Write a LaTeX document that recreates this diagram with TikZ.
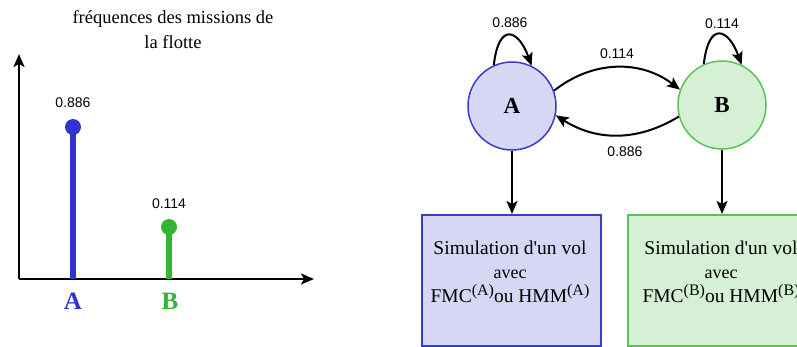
\documentclass[tikz,border=0pt]{standalone}
\usepackage{fontspec}
\setmainfont{Liberation Serif}[Ligatures=TeXOff]
\newfontfamily\numfont{Liberation Sans}
\usetikzlibrary{arrows.meta}
\definecolor{blueC}{RGB}{48,52,208}
\definecolor{greenC}{RGB}{52,180,52}
\definecolor{blueFill}{RGB}{214,215,245}
\definecolor{greenFill}{RGB}{214,240,214}
\definecolor{blueLine}{RGB}{58,58,205}
\definecolor{greenLine}{RGB}{88,196,88}
\newcommand{\supx}[1]{\raisebox{7pt}{\fontsize{16}{18}\selectfont #1}}
\tikzset{
  num/.style={font=\numfont\fontsize{14}{16}\selectfont, inner sep=1pt},
  arr/.style={line width=2pt, -{Stealth[length=13pt,width=11pt,inset=3pt]}},
  state/.style={circle, minimum size=88pt, inner sep=0pt, line width=1.5pt, font=\bfseries\fontsize{23}{25}\selectfont},
  simbox/.style={rectangle, minimum width=179pt, minimum height=131pt, line width=2pt, align=center, inner sep=0pt},
  stem/.style={line width=6pt},
}
\begin{document}
\begin{tikzpicture}[x=1pt,y=-1pt]
\clip (0,0) rectangle (797,347);
\fill[white] (0,0) rectangle (797,347);
% title
\node[align=center, font=\fontsize{18.5}{25}\selectfont] (title) at (173,30) {fréquences des missions de\\la flotte};
% axes
\coordinate (O) at (19,279);
\coordinate (Ytop) at (19,54);
\coordinate (Xend) at (314,279);
\draw[arr] (O) -- (Ytop);
\draw[arr] (O) -- (Xend);
% stems
\coordinate (sa0) at (73,279);
\coordinate (sa1) at (73,127);
\coordinate (sb0) at (169,279);
\coordinate (sb1) at (169,227);
\draw[stem, blueC] (sa0) -- (sa1);
\fill[blueC] (sa1) circle (8);
\draw[stem, greenC] (sb0) -- (sb1);
\fill[greenC] (sb1) circle (8);
\node[num] (la) at (73,103) {0.886};
\node[num] (lb) at (169,204) {0.114};
\node[font=\bfseries\fontsize{25}{27}\selectfont, text=blueC] (xA) at (73,301) {A};
\node[font=\bfseries\fontsize{25}{27}\selectfont, text=greenC] (xB) at (170,301) {B};
% states
\node[state, draw=blueLine, fill=blueFill] (A) at (512,106) {A};
\node[state, draw=greenLine, fill=greenFill] (B) at (722,105) {B};
% self loops
\draw[arr] (A.114) .. controls +(5,-44) and +(-13,-36) .. (A.64);
\node[num] (lA) at (510,23) {0.886};
\draw[arr] (B.114) .. controls +(5,-44) and +(-13,-36) .. (B.64);
\node[num] (lB) at (722,24) {0.114};
% transitions
\draw[arr] (A.20) to[bend left=38] (B.160);
\node[num] (lAB) at (617,54) {0.114};
\draw[arr] (B.195) to[bend left=32] (A.-12);
\node[num] (lBA) at (625,152) {0.886};
% boxes
\node[simbox, draw=blueLine, fill=blueFill] (boxA) at (511.5,280.5) {};
\node[simbox, draw=greenLine, fill=greenFill] (boxB) at (717.5,280.5) {};
\node[align=center, font=\fontsize{19.5}{24}\selectfont] (tA) at (510,272) {Simulation d'un vol\\{\fontsize{18}{20}\selectfont avec}\\FMC\supx{(A)}ou HMM\supx{(A)}};
\node[align=center, font=\fontsize{19.5}{24}\selectfont] (tB) at (721,272) {Simulation d'un vol\\{\fontsize{18}{20}\selectfont avec}\\FMC\supx{(B)}ou HMM\supx{(B)}};
\draw[arr] (A.south) -- (A.south |- boxA.north);
\draw[arr] (B.south) -- (B.south |- boxB.north);
\end{tikzpicture}
\end{document}
